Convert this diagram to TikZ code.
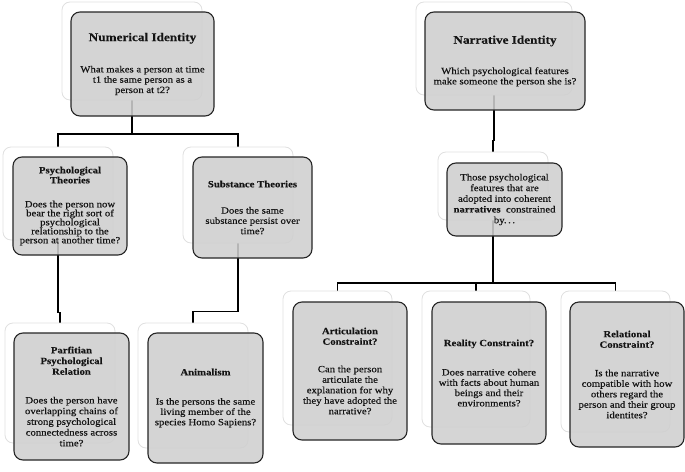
\documentclass[tikz,border=0pt]{standalone}
\usepackage{fontspec}
\setmainfont{Liberation Serif}[FakeStretch=1.13, FakeBold=0.35, BoldFeatures={FakeBold=0.2}]
\usetikzlibrary{backgrounds}
\colorlet{shdA}{black!22}
\pgfdeclarehorizontalshading{backsh}{100bp}{color(0bp)=(shdA); color(7bp)=(white); color(100bp)=(white)}
\newcommand\bigttl[1]{{\fontsize{11.7}{13}\selectfont\bfseries #1}}
\newcommand\subttl[1]{{\bfseries #1}}
\tikzset{
  backbox/.style={draw=black!12, line width=0.8pt, rounded corners=8pt, shading=backsh, inner sep=0pt},
  frontbox/.style={draw=black!85, line width=1.1pt, rounded corners=9pt, fill=black!19, fill opacity=0.88,
    text opacity=1, text=black!92, align=center, inner sep=0pt, font=\fontsize{9.5}{10.3}\selectfont},
  conn/.style={draw=black, line width=1.8pt}
}
\begin{document}
\begin{tikzpicture}[x=1pt,y=-1pt]
\useasboundingbox (0,0) rectangle (685,471);
% top left
\node[backbox, minimum width=140pt, minimum height=98pt] (numb) at (132,51) {};
\node[frontbox, minimum width=143pt, minimum height=104pt] (numf) at (142.5,64)
  {\bigttl{Numerical Identity}\\[21pt]What makes a person at time\\t1 the same person as a\\person at t2?};
% top right
\node[backbox, minimum width=156pt, minimum height=93pt] (narb) at (494,48.5) {};
\node[frontbox, minimum width=160pt, minimum height=98pt] (narf) at (505,61)
  {\bigttl{Narrative Identity}\\[20pt]Which psychological features\\make someone the person she is?};
% psychological theories
\node[backbox, minimum width=110pt, minimum height=93pt] (psb) at (58,193.5) {};
\node[frontbox, minimum width=114pt, minimum height=98pt, font=\fontsize{9.5}{9}\selectfont] (psf) at (70,206)
  {\subttl{Psychological}\\[1pt]\subttl{Theories}\\[15pt]Does the person now\\bear the right sort of\\psychological\\relationship to the\\person at another time?};
% substance theories
\node[backbox, minimum width=110pt, minimum height=96pt] (stb) at (238,195) {};
\node[frontbox, minimum width=119pt, minimum height=101pt] (stf) at (252.5,207.5)
  {\subttl{Substance Theories}\\[16pt]Does the same\\substance persist over\\time?};
% narratives
\node[backbox, minimum width=110pt, minimum height=68pt] (nwb) at (493,186) {};
\node[frontbox, minimum width=115pt, minimum height=73pt, font=\fontsize{9.5}{10.7}\selectfont] (nwf) at (504.5,199.5)
  {Those psychological\\features that are\\adopted into coherent\\\textbf{narratives}\ \ constrained\\by.\,.\,.};
% parfitian
\node[backbox, minimum width=110pt, minimum height=120pt] (pfb) at (60,383) {};
\node[frontbox, minimum width=115pt, minimum height=127pt, font=\fontsize{9.5}{10.7}\selectfont] (pff) at (71.5,396.5)
  {\subttl{Parfitian}\\\subttl{Psychological}\\\subttl{Relation}\\[18pt]Does the person have\\overlapping chains of\\strong psychological\\connectedness across\\time?};
% animalism
\node[backbox, minimum width=110pt, minimum height=125pt] (anb) at (193,385.5) {};
\node[frontbox, minimum width=115pt, minimum height=130pt] (anf) at (205.5,398)
  {\subttl{Animalism}\\[19pt]Is the persons the same\\living member of the\\species Homo Sapiens?};
% articulation
\node[backbox, minimum width=109pt, minimum height=134pt] (arb) at (337.5,358) {};
\node[frontbox, minimum width=114pt, minimum height=138pt, font=\fontsize{9.5}{10.5}\selectfont] (arf) at (350,371)
  {\subttl{Articulation}\\\subttl{Constraint?}\\[17pt]Can the person\\articulate the\\explanation for why\\they have adopted the\\narrative?};
% reality
\node[backbox, minimum width=108pt, minimum height=136pt] (reb) at (476,359) {};
\node[frontbox, minimum width=114pt, minimum height=142pt] (ref) at (489,373)
  {\subttl{Reality Constraint?}\\[19pt]Does narrative cohere\\with facts about human\\beings and their\\environments?};
% relational
\node[backbox, minimum width=109pt, minimum height=141pt] (rlb) at (615.5,361.5) {};
\node[frontbox, minimum width=114pt, minimum height=145pt, font=\fontsize{9.5}{10.5}\selectfont] (rlf) at (627,374.5)
  {\subttl{Relational}\\\subttl{Constraint?}\\[18pt]Is the narrative\\compatible with how\\others regard the\\person and their group\\identites?};
% connectors
\begin{scope}[on background layer]
\coordinate (bus1) at (132,134);
\draw[conn] (numb.south) -- (bus1);
\draw[conn] (psb.north) |- (bus1) -| (stb.north);
\draw[conn] (psb.south) -- ++(0,72) -| (pfb.north);
\draw[conn] (stb.south) -- ++(0,68) -| (anb.north);
\draw[conn] (narb.south) -- ++(0,45) -| (nwb.north);
\coordinate (bus2) at (493,283);
\draw[conn] (nwb.south) -- (bus2);
\draw[conn] (arb.north) |- (bus2) -| (rlb.north);
\draw[conn] (reb.north) -- (reb.north |- bus2);
\end{scope}
\end{tikzpicture}
\end{document}
